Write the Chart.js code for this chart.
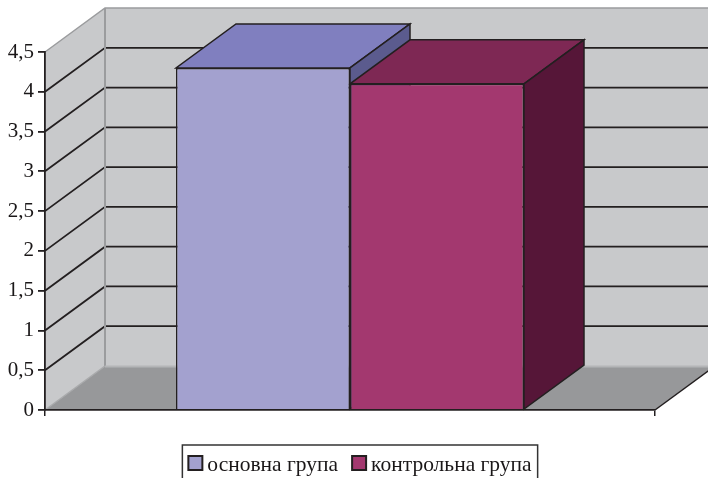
<!DOCTYPE html>
<html>
<head>
<meta charset="utf-8">
<script src="https://cdn.jsdelivr.net/npm/chart.js@4/dist/chart.umd.min.js"></script>
<style>
  html, body { margin: 0; padding: 0; background: #ffffff; }
  #wrap { width: 708px; height: 478px; }
</style>
</head>
<body>
<div id="wrap"><canvas id="chart" width="708" height="478"></canvas></div>
<script>
// Data
const categories = [''];
const seriesLabels = ['основна група', 'контрольна група'];
const mainGroup = [4.3];
const controlGroup = [4.1];
const yTickLabels = ['0', '0,5', '1', '1,5', '2', '2,5', '3', '3,5', '4', '4,5'];

// Styling
const SERIF = "'Liberation Serif', 'Times New Roman', 'DejaVu Serif', serif";
const INK = '#231f20';
const WALL = '#c8c9cb';
const FLOOR = '#97989a';
const EDGE = '#9b9c9e';
const faces = [
  { front: '#a3a1cf', top: '#807fbf', side: '#5b5b8e' },
  { front: '#a3386f', top: '#7e2854', side: '#561638' }
];
const DEPTH_X = 60, DEPTH_Y = -44;

function poly(ctx, pts, fill, stroke, lw) {
  ctx.beginPath();
  ctx.moveTo(pts[0][0], pts[0][1]);
  for (let i = 1; i < pts.length; i++) ctx.lineTo(pts[i][0], pts[i][1]);
  ctx.closePath();
  if (fill) { ctx.fillStyle = fill; ctx.fill(); }
  if (stroke) { ctx.strokeStyle = stroke; ctx.lineWidth = lw || 1.5; ctx.lineJoin = 'miter'; ctx.stroke(); }
}
function line(ctx, pts, color, lw) {
  ctx.beginPath();
  ctx.moveTo(pts[0][0], pts[0][1]);
  for (let i = 1; i < pts.length; i++) ctx.lineTo(pts[i][0], pts[i][1]);
  ctx.strokeStyle = color; ctx.lineWidth = lw; ctx.stroke();
}

// Walls, floor, gridlines and the top/side faces of each column
const box3d = {
  id: 'box3d',
  beforeDatasetsDraw(chart) {
    const { ctx, chartArea: a, scales: { y } } = chart;
    const y0 = y.getPixelForValue(0);
    const yTop = y.getPixelForValue(y.max);
    const L = a.left, R = a.right, dx = DEPTH_X, dy = DEPTH_Y;
    ctx.save();
    // side wall, back wall, floor
    poly(ctx, [[L, yTop], [L + dx, yTop + dy], [L + dx, y0 + dy], [L, y0]], WALL);
    poly(ctx, [[L + dx, yTop + dy], [R + dx, yTop + dy], [R + dx, y0 + dy], [L + dx, y0 + dy]], WALL);
    poly(ctx, [[L, y0], [L + dx, y0 + dy], [R + dx, y0 + dy], [R, y0]], FLOOR);
    // gridlines across side and back walls
    y.ticks.forEach(t => {
      if (t.value <= 0 || t.value >= y.max) return;
      const py = y.getPixelForValue(t.value);
      line(ctx, [[L, py], [L + dx, py + dy], [R + dx, py + dy]], INK, 1.8);
    });
    // wall edges
    line(ctx, [[L, yTop], [L + dx, yTop + dy], [R + dx, yTop + dy]], EDGE, 1.5);
    line(ctx, [[L + dx, yTop + dy], [L + dx, y0 + dy]], EDGE, 2);
    line(ctx, [[L, y0], [L + dx, y0 + dy]], '#a9aaac', 1.5);
    line(ctx, [[L + dx, y0 + dy + 0.5], [R + dx, y0 + dy + 0.5]], '#b4b5b7', 2);
    line(ctx, [[R, y0], [R + dx, y0 + dy]], INK, 1.5);
    // column depth faces
    chart.data.datasets.forEach((ds, i) => {
      const meta = chart.getDatasetMeta(i);
      if (meta.hidden) return;
      meta.data.forEach(bar => {
        const p = bar.getProps(['x', 'y', 'width', 'base'], true);
        const l = p.x - p.width / 2, r = p.x + p.width / 2;
        poly(ctx, [[l, p.y], [r, p.y], [r + dx, p.y + dy], [l + dx, p.y + dy]], faces[i].top, INK, 1.5);
        poly(ctx, [[r, p.y], [r + dx, p.y + dy], [r + dx, p.base + dy], [r, p.base]], faces[i].side, INK, 1.5);
      });
    });
    ctx.restore();
  },
  afterDraw(chart) {
    // legend with boxed swatches
    const { ctx } = chart;
    ctx.save();
    ctx.font = '21.5px ' + SERIF;
    const sw = 14, gap = 5, between = 14, pad = 6;
    const widths = chart.data.datasets.map(d => ctx.measureText(d.label).width);
    let total = pad * 2;
    widths.forEach((w, i) => { total += sw + gap + w + (i ? between : 0); });
    const cx = 360;
    const boxTop = 445;
    let x = cx - total / 2;
    ctx.strokeStyle = '#333333'; ctx.lineWidth = 1.5;
    ctx.strokeRect(x, boxTop, total, 40);
    x += pad;
    const base = 471;
    chart.data.datasets.forEach((d, i) => {
      if (i) x += between;
      ctx.fillStyle = faces[i].front;
      ctx.fillRect(x, base - 15, sw, sw);
      ctx.strokeStyle = INK; ctx.lineWidth = 2;
      ctx.strokeRect(x, base - 15, sw, sw);
      x += sw + gap;
      ctx.fillStyle = '#1a1718';
      ctx.textBaseline = 'alphabetic';
      ctx.textAlign = 'left';
      ctx.fillText(d.label, x, base);
      x += widths[i];
    });
    ctx.restore();
  }
};

new Chart(document.getElementById('chart'), {
  type: 'bar',
  data: {
    labels: categories,
    datasets: [
      { label: seriesLabels[0], data: mainGroup, backgroundColor: faces[0].front, borderColor: INK, borderWidth: 1.5 },
      { label: seriesLabels[1], data: controlGroup, backgroundColor: faces[1].front, borderColor: INK, borderWidth: 1.5 }
    ]
  },
  options: {
    responsive: false,
    animation: false,
    events: [],
    layout: { padding: { left: 0, top: 52, right: 53, bottom: 62 } },
    datasets: { bar: { barPercentage: 1, categoryPercentage: 0.5705 } },
    plugins: { legend: { display: false }, tooltip: { enabled: false } },
    scales: {
      x: {
        grid: { drawOnChartArea: false, drawTicks: true, tickLength: 6, color: INK, lineWidth: 1.5, z: 1 },
        border: { color: INK, width: 1.8, z: 1 },
        ticks: { display: false }
      },
      y: {
        min: 0, max: 4.5,
        afterFit(s) { s.width = 45; },
        grid: { drawOnChartArea: false, drawTicks: true, tickLength: 7, color: INK, lineWidth: 1.8, z: 1 },
        border: { color: INK, width: 1.8, z: 1 },
        ticks: {
          stepSize: 0.5,
          padding: 4,
          color: '#1a1718',
          font: { family: SERIF, size: 21 },
          callback: (v, i) => yTickLabels[i]
        }
      }
    }
  },
  plugins: [box3d]
});
</script>
</body>
</html>
